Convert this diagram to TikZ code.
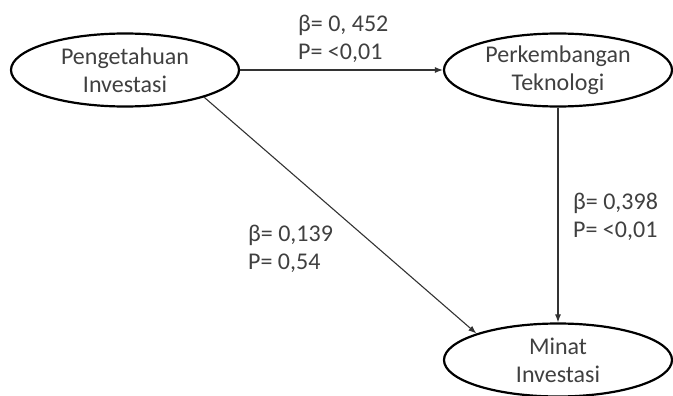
\documentclass[tikz,border=0pt]{standalone}
\usepackage{fontspec}
\setmainfont{Carlito}
\usetikzlibrary{shapes.geometric}
\usetikzlibrary{arrows.meta}
\definecolor{textgray}{HTML}{404040}
\definecolor{linegray}{HTML}{333333}

\begin{document}
\begin{tikzpicture}[x=1pt,y=-1pt]
				\tikzstyle{construct}=[draw,shape=ellipse,line width=2.2pt,minimum width=228pt,minimum height=73pt,inner sep=0pt,align=center,text=textgray,font=\fontsize{24}{28}\selectfont]
				\tikzstyle{link}=[-{Latex[length=8pt,width=6pt]},line width=1.1pt,draw=linegray]
				\tikzstyle{coef}=[anchor=west,inner sep=0pt,align=left,text=textgray,font=\fontsize{24}{28}\selectfont]

				\useasboundingbox (0,0) rectangle (673,396);

				\node [construct] (pengetahuan) at (125,70) {Pengetahuan\\Investasi};
				\node [construct] (teknologi) at (558,70) {Perkembangan\\Teknologi};
				\node [construct] (minat) at (558,360) {Minat\\Investasi};

				\draw [link] (pengetahuan.east) -- (teknologi.west);
				\draw [link] (teknologi.south) -- (minat.north);
				\draw [link] (pengetahuan.-19) -- (minat.162);

				\node [coef] (coef1) at (298,39) {β= 0, 452\\P= <0,01};
				\node [coef] (coef2) at (573,217) {β= 0,398\\P= <0,01};
				\node [coef] (coef3) at (248,249) {β= 0,139\\P= 0,54};

			\end{tikzpicture}
\end{document}
